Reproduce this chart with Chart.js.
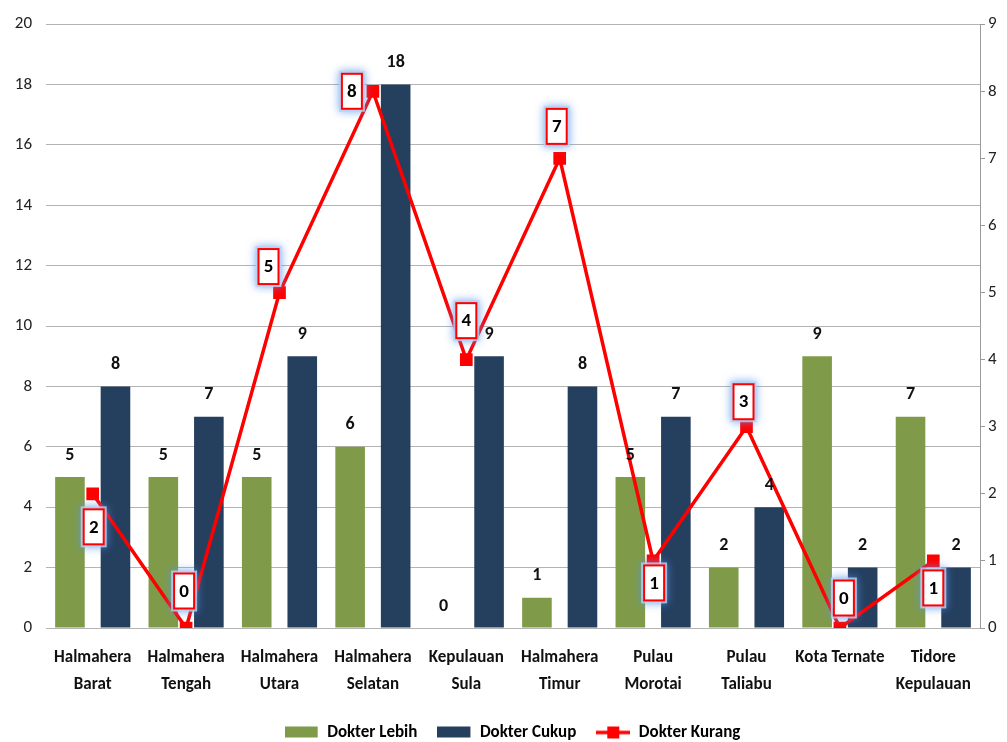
<!DOCTYPE html>
<html>
<head>
<meta charset="utf-8">
<script src="https://cdn.jsdelivr.net/npm/chart.js@4.4.1/dist/chart.umd.min.js"></script>
<style>
  html, body { margin: 0; padding: 0; background: #ffffff; }
  #wrap { width: 1007px; height: 742px; position: relative; }
</style>
</head>
<body>
<div id="wrap"><canvas id="c" width="1007" height="742"></canvas></div>
<script>
// ---- data ----
const categories = [
  ['Halmahera', 'Barat'], ['Halmahera', 'Tengah'], ['Halmahera', 'Utara'],
  ['Halmahera', 'Selatan'], ['Kepulauan', 'Sula'], ['Halmahera', 'Timur'],
  ['Pulau', 'Morotai'], ['Pulau', 'Taliabu'], ['Kota Ternate'], ['Tidore', 'Kepulauan']
];
const dokterLebih  = [5, 5, 5, 6, 0, 1, 5, 2, 9, 7];
const dokterCukup  = [8, 7, 9, 18, 9, 8, 7, 4, 2, 2];
const dokterKurang = [2, 0, 5, 8, 4, 7, 1, 3, 0, 1];
const seriesNames = ['Dokter Lebih', 'Dokter Cukup', 'Dokter Kurang'];
const leftTicks  = { min: 0, max: 20, step: 2 };
const rightTicks = { min: 0, max: 9, step: 1 };

// ---- styles ----
const FONT = "Carlito, Lato, 'Open Sans', sans-serif";
const GREEN = '#7f9b49';
const NAVY = '#253f5f';
const RED = '#ff0000';
// label offsets (px) for the line labels, relative to each point
const kurangLabelOffset = [
  [1, 33], [-2, -37], [-11, -26], [-21, 0], [0, -39],
  [-3, -32], [1, 22], [-3, -25], [4, -30], [0, 27]
];

function legendGlyph(kind, color) {
  const cv = document.createElement('canvas');
  cv.width = 34; cv.height = 14;
  const g = cv.getContext('2d');
  if (kind === 'box') {
    g.fillStyle = color; g.fillRect(0, 1, 33, 11);
  } else {
    g.strokeStyle = color; g.lineWidth = 3.5;
    g.beginPath(); g.moveTo(0, 7); g.lineTo(34, 7); g.stroke();
    g.fillStyle = color; g.fillRect(11, 1, 12, 12);
  }
  return cv;
}
const glyphs = [legendGlyph('box', GREEN), legendGlyph('box', NAVY), legendGlyph('line', RED)];

const legendShift = {
  id: 'legendShift',
  afterLayout(chart) {
    const l = chart.legend;
    if (!l) return;
    l.left += 9; l.right += 9;
    l.top += 9; l.bottom += 9;
  }
};

const labelPlugin = {
  id: 'labels',
  afterDatasetsDraw(chart) {
    const ctx = chart.ctx;
    ctx.save();
    // bar labels
    [0, 1].forEach(di => {
      const meta = chart.getDatasetMeta(di);
      meta.data.forEach((el, i) => {
        const v = chart.data.datasets[di].data[i];
        ctx.font = 'bold 18px ' + FONT;
        ctx.fillStyle = '#111';
        ctx.textAlign = 'center';
        ctx.textBaseline = 'middle';
        ctx.fillText(String(v), el.x, el.y - 22);
      });
    });
    // line labels
    const meta = chart.getDatasetMeta(2);
    meta.data.forEach((el, i) => {
      const v = chart.data.datasets[2].data[i];
      const off = kurangLabelOffset[i];
      const cx = el.x + off[0], cy = el.y + off[1];
      const w = 20, h = 35;
      ctx.save();
      ctx.shadowColor = 'rgba(90,150,235,0.95)';
      ctx.shadowBlur = 9;
      ctx.fillStyle = 'rgba(185,210,245,0.8)';
      ctx.fillRect(cx - w / 2 - 3, cy - h / 2 - 3, w + 6, h + 6);
      ctx.restore();
      ctx.fillStyle = '#fff';
      ctx.fillRect(cx - w / 2, cy - h / 2, w, h);
      ctx.strokeStyle = RED; ctx.lineWidth = 2;
      ctx.strokeRect(cx - w / 2, cy - h / 2, w, h);
      ctx.font = 'bold 19px ' + FONT;
      ctx.fillStyle = '#000';
      ctx.textAlign = 'center';
      ctx.textBaseline = 'middle';
      ctx.fillText(String(v), cx, cy + 1);
    });
    ctx.restore();
  }
};

new Chart(document.getElementById('c'), {
  data: {
    labels: categories,
    datasets: [
      { type: 'bar', label: seriesNames[0], data: dokterLebih, backgroundColor: GREEN,
        yAxisID: 'y', order: 2, categoryPercentage: 0.975, barPercentage: 0.65 },
      { type: 'bar', label: seriesNames[1], data: dokterCukup, backgroundColor: NAVY,
        yAxisID: 'y', order: 2, categoryPercentage: 0.975, barPercentage: 0.65 },
      { type: 'line', label: seriesNames[2], data: dokterKurang, borderColor: RED,
        backgroundColor: RED, borderWidth: 3.5, pointStyle: 'rect', pointRadius: 6.5,
        pointHoverRadius: 6.5, yAxisID: 'y1', order: 1, tension: 0 }
    ]
  },
  options: {
    responsive: false,
    animation: false,
    layout: { padding: { top: 22, left: 0, right: 0, bottom: 0 } },
    plugins: {
      tooltip: { enabled: false },
      legend: {
        position: 'bottom',
        labels: {
          usePointStyle: true,
          pointStyleWidth: 34,
          padding: 20,
          color: '#111',
          font: { family: FONT, size: 17, weight: 'bold' },
          generateLabels(chart) {
            return chart.data.datasets.map((d, i) => ({
              text: d.label, pointStyle: glyphs[i], datasetIndex: i,
              fillStyle: 'transparent', strokeStyle: 'transparent', lineWidth: 0, hidden: false
            }));
          }
        }
      }
    },
    scales: {
      x: {
        grid: { display: false, drawTicks: false },
        border: { display: false },
        ticks: { color: '#111', padding: 16, maxRotation: 0, autoSkip: false,
                 font: { family: FONT, size: 17, weight: 'bold', lineHeight: 1.6 } },
        afterFit(s) { s.height = 67; }
      },
      y: {
        position: 'left', min: leftTicks.min, max: leftTicks.max,
        ticks: { stepSize: leftTicks.step, color: '#222', padding: 14,
                 font: { family: FONT, size: 17 } },
        grid: { color: '#b4b4b4', lineWidth: 1, drawTicks: false },
        border: { display: false },
        afterFit(s) { s.width = 46; }
      },
      y1: {
        position: 'right', min: rightTicks.min, max: rightTicks.max,
        ticks: { stepSize: rightTicks.step, color: '#222', padding: 3,
                 font: { family: FONT, size: 17 } },
        grid: { drawOnChartArea: false, drawTicks: true, tickLength: 5, color: '#9a9a9a' },
        border: { display: true, color: '#9a9a9a' },
        afterFit(s) { s.width = 27; }
      }
    }
  },
  plugins: [labelPlugin, legendShift]
});
</script>
</body>
</html>
